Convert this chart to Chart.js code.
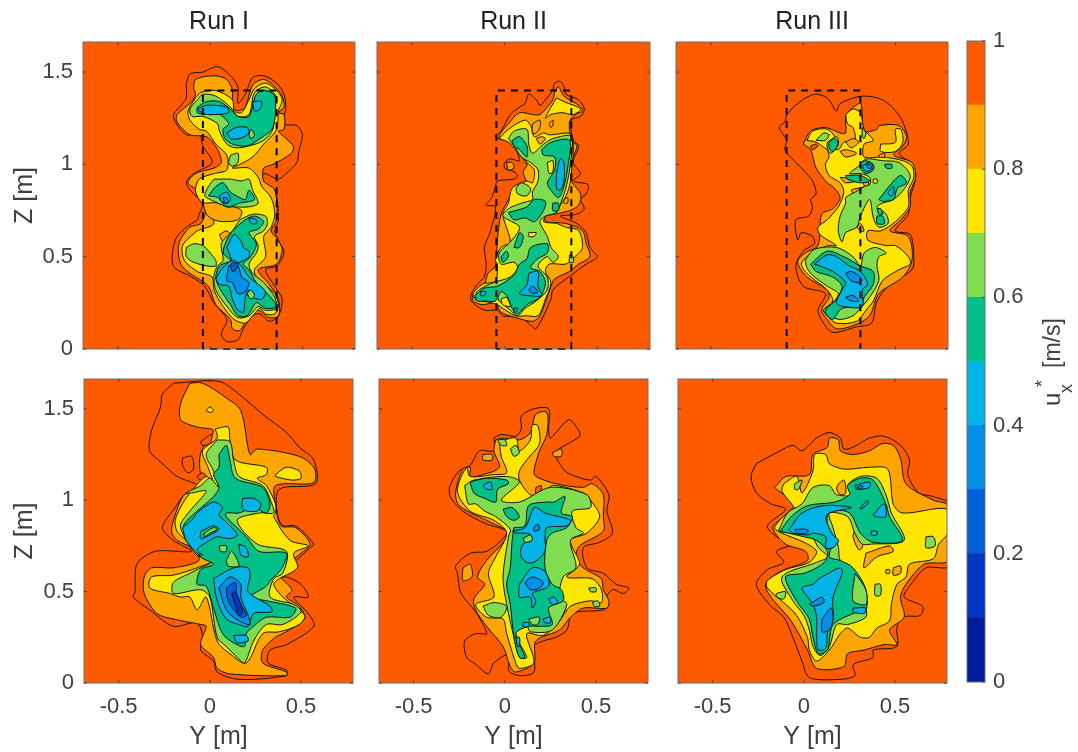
<!DOCTYPE html>
<html>
<head>
<meta charset="utf-8">
<style>
  html, body { margin: 0; padding: 0; background: #fff; overflow: hidden; }
  canvas { position: absolute; filter: blur(0.4px); }
</style>
<script src="https://cdn.jsdelivr.net/npm/chart.js@4"></script>
</head>
<body>
<canvas id="panelUpperI"></canvas>
<canvas id="panelUpperII"></canvas>
<canvas id="panelUpperIII"></canvas>
<canvas id="panelLowerI"></canvas>
<canvas id="panelLowerII"></canvas>
<canvas id="panelLowerIII"></canvas>
<canvas id="colorbar"></canvas>
<script>
const yTicks = [-0.5, 0, 0.5]
const zTicks = [0, 0.5, 1, 1.5]
const barTicks = [0, 0.2, 0.4, 0.6, 0.8, 1]
const barBands = [0.1, 0.1, 0.1, 0.1, 0.1, 0.1, 0.1, 0.1, 0.1, 0.1]
const bandColors = ['#001c9e', '#0036c4', '#005ed8', '#0090e8', '#00b5e5', '#00c088', '#80dd50', '#ffe600', '#ffa500', '#ff5a00']
const runTitles = ['Run I', 'Run II', 'Run III']

// measurement box, drawn dashed: [y, z] corners
const boxUpperI = [-0.04, 0, -0.04, 1.4, 0.36, 1.4, 0.36, 0, -0.04, 0]
const boxUpperII = [-0.045, 0, -0.045, 1.4, 0.36, 1.4, 0.36, 0, -0.045, 0]
const boxUpperIII = [-0.09, 0, -0.09, 1.4, 0.31, 1.4, 0.31, 0]

// contour regions in paint order: [u value of the region, [y, z, y, z, ...]]
const upperI = [
  [0.95, [-.13,1.44,-.11,1.49,-.04,1.5,.04,1.53,.11,1.48,.15,1.42,.15,1.33,.19,1.38,.23,1.47,.29,1.48,.36,1.44,.4,1.38,.41,1.31,.4,1.22,.47,1.21,.5,1.16,.48,1.07,.47,1.01,.41,.95,.37,.92,.29,.95,.29,.89,.35,.86,.37,.7,.35,.64,.37,.59,.4,.52,.36,.45,.3,.43,.35,.34,.39,.27,.37,.18,.32,.15,.27,.19,.23,.18,.18,.11,.15,.05,.09,.04,.06,.08,.09,.16,.02,.25,-.03,.34,-.1,.39,-.2,.45,-.19,.59,-.13,.66,-.07,.7,-.06,.73,-.03,.81,-.08,.83,-.13,.9,-.09,.95,.01,1.01,-.04,1.1,-.06,1.17,-.13,1.16,-.2,1.26,-.15,1.33,-.13,1.36]],
  [0.85, [-.09,1.41,-.08,1.46,.02,1.48,.09,1.46,.12,1.4,.12,1.31,.15,1.29,.19,1.31,.23,1.43,.29,1.46,.35,1.42,.39,1.37,.4,1.31,.37,1.28,.4,1.27,.4,1.19,.37,1.18,.45,1.1,.44,1.06,.34,1,.29,.98,.29,.91,.35,.86,.36,.7,.33,.64,.36,.6,.39,.54,.36,.46,.26,.43,.32,.35,.37,.27,.37,.18,.32,.17,.26,.21,.21,.18,.16,.1,.12,.11,.11,.16,.03,.24,-.01,.34,-.11,.41,-.16,.46,-.17,.57,-.11,.66,-.05,.68,-.02,.77,-.04,.81,-.07,.86,-.12,.9,-.08,.95,.02,.98,.06,1.01,.04,1.08,-.02,1.15,-.11,1.16,-.18,1.23,-.18,1.27,-.1,1.34,-.08,1.38]],
  [0.75, [-.08,1.36,-.05,1.39,.03,1.4,.12,1.35,.13,1.29,.17,1.28,.21,1.35,.24,1.41,.3,1.44,.36,1.4,.39,1.35,.37,1.29,.36,1.19,.29,1.11,.23,1.04,.16,1,.12,.98,.21,.98,.26,.93,.28,.88,.33,.82,.35,.73,.33,.66,.29,.61,.3,.5,.24,.43,.25,.39,.35,.3,.37,.24,.35,.19,.3,.19,.27,.22,.23,.18,.19,.14,.13,.16,.07,.23,.02,.32,.01,.39,-.07,.42,-.14,.48,-.15,.56,-.07,.64,-.04,.65,.02,.68,-.02,.76,-.06,.81,-.08,.86,-.06,.92,.02,.95,.09,.97,.09,1.05,.03,1.11,-.02,1.18,-.06,1.19,-.11,1.24,-.12,1.29]],
  [0.85, [-.04,.79,.05,.79,.17,.75,.15,.7,.07,.69,.02,.7,-.02,.73]],
  [0.85, [.05,.62,.09,.64,.11,.61,.07,.58]],
  [0.65, [-.07,1.35,-.04,1.38,.03,1.37,.11,1.31,.15,1.26,.21,1.27,.24,1.39,.3,1.42,.35,1.38,.36,1.35,.35,1.31,.34,1.19,.29,1.13,.21,1.1,.14,1.09,.09,1.11,.05,1.18,.04,1.22,-.04,1.26,-.1,1.26,-.11,1.3]],
  [0.65, [.11,1.05,.15,1.06,.15,1.01,.12,.99,.1,1.01]],
  [0.65, [.02,.92,.11,.92,.17,.91,.21,.92,.23,.86,.26,.79,.21,.77,.12,.77,.09,.77,0,.81,-.03,.83,-.01,.88]],
  [0.65, [.16,.7,.23,.73,.3,.72,.31,.68,.29,.64,.24,.61,.26,.56,.25,.52,.21,.46,.23,.41,.29,.36,.35,.28,.36,.22,.3,.21,.26,.23,.21,.18,.15,.17,.09,.23,.03,.32,.02,.4,.04,.45,.07,.48,.06,.57,.12,.64]],
  [0.65, [-.13,.55,-.09,.57,-.04,.56,0,.52,.03,.48,.03,.45,-.02,.45,-.09,.47,-.13,.5]],
  [0.55, [-.07,1.31,-.02,1.34,.05,1.34,.12,1.29,.15,1.26,.21,1.26,.25,1.38,.3,1.4,.35,1.37,.34,1.2,.27,1.14,.2,1.1,.12,1.11,.08,1.14,.07,1.19,.1,1.22,.05,1.27,-.02,1.27,-.07,1.28]],
  [0.45, [-.07,1.3,-.02,1.32,.09,1.31,.1,1.28,-.02,1.27,-.06,1.29]],
  [0.45, [.23,1.34,.28,1.34,.27,1.3,.24,1.29]],
  [0.45, [.09,1.17,.14,1.2,.2,1.2,.21,1.17,.16,1.14,.11,1.14]],
  [0.65, [.21,1.16,.22,1.19,.24,1.16,.22,1.14]],
  [0.55, [-.01,.83,.03,.88,.07,.9,.11,.85,.16,.82,.19,.81,.21,.86,.24,.81,.16,.79,.09,.77,.04,.82]],
  [0.45, [.05,.83,.09,.85,.11,.81,.09,.79,.06,.8]],
  [0.35, [.07,.82,.09,.82,.1,.8,.08,.79]],
  [0.55, [.12,.64,.19,.7,.24,.72,.29,.69,.26,.65,.21,.63,.25,.57,.22,.5,.18,.46,.21,.43,.25,.36,.32,.29,.36,.23,.3,.22,.25,.25,.2,.18,.15,.18,.11,.24,.05,.33,.03,.39,.05,.45,.11,.48,.07,.52,.09,.59]],
  [0.45, [.21,.71,.25,.7,.25,.68,.22,.68]],
  [0.45, [.09,.55,.13,.62,.17,.58,.18,.55,.21,.53,.21,.5,.16,.47,.12,.47,.11,.5]],
  [0.45, [.03,.38,.06,.43,.12,.48,.17,.45,.21,.39,.26,.35,.3,.31,.28,.27,.23,.28,.21,.32,.19,.28,.18,.2,.15,.21,.12,.27,.1,.34,.05,.35]],
  [0.35, [.1,.45,.15,.45,.17,.39,.21,.36,.19,.31,.15,.3,.12,.36,.09,.37]],
  [0.25, [.11,.45,.12,.47,.15,.46,.14,.43,.12,.42]],
  [0.65, [.2,.3,.22,.32,.24,.29,.22,.27]]
]

const upperII = [
  [0.95, [.26,1.4,.27,1.44,.3,1.45,.32,1.42,.33,1.38,.4,1.35,.43,1.3,.41,1.26,.36,1.24,.37,1.13,.4,1.1,.37,1.01,.41,.95,.37,.91,.45,.89,.44,.84,.41,.81,.43,.76,.39,.73,.3,.72,.39,.68,.44,.63,.46,.55,.5,.5,.44,.46,.36,.4,.26,.32,.25,.27,.17,.11,.14,.13,.09,.17,-.01,.18,-.04,.21,-.11,.21,-.18,.26,-.18,.3,-.14,.36,-.11,.39,-.1,.46,-.11,.55,-.08,.63,-.05,.77,-.1,.78,-.07,.82,-.05,.88,-.04,.91,.05,.92,.07,.94,.05,.96,0,.98,0,1.01,.03,1.03,.08,1.02,.04,1.11,-.05,1.15,-.02,1.18,.03,1.27,.08,1.31,.11,1.33,.13,1.38,.17,1.35,.19,1.32,.22,1.35]],
  [0.85, [.27,1.39,.29,1.42,.32,1.37,.4,1.32,.42,1.29,.38,1.27,.35,1.23,.36,1.13,.39,1.1,.35,.99,.36,.91,.41,.84,.4,.78,.35,.75,.27,.73,.22,.72,.22,.69,.33,.68,.42,.64,.44,.57,.46,.5,.4,.46,.35,.42,.27,.38,.25,.34,.19,.18,.15,.15,.06,.17,-.02,.2,-.05,.25,-.12,.24,-.17,.26,-.17,.3,-.11,.35,-.09,.41,-.05,.45,-.04,.59,-.02,.73,.02,.81,.04,.85,.12,.88,.1,.96,.12,1,.02,1.13,-.03,1.15,.02,1.22,.08,1.28,.15,1.27,.19,1.27,.23,1.31,.26,1.35]],
  [0.85, [.01,1.01,.04,1.01,.05,.98,.02,.97]],
  [0.75, [.28,1.36,.32,1.34,.41,1.3,.37,1.27,.31,1.28,.25,1.27,.22,1.25,.25,1.31]],
  [0.75, [-.03,1.14,.02,1.19,.11,1.24,.14,1.21,.16,1.15,.21,1.17,.24,1.16,.36,1.16,.36,.95,.34,.85,.3,.78,.23,.73,.21,.69,.28,.68,.33,.66,.4,.64,.42,.55,.38,.5,.33,.46,.24,.46,.22,.42,.25,.36,.22,.27,.18,.18,.12,.18,.06,.18,-.01,.22,-.04,.24,-.11,.26,-.16,.27,-.17,.3,-.12,.35,-.05,.37,-.04,.46,-.05,.48,-.02,.55,.03,.58,-.01,.73,.02,.79,.04,.87,.12,.91,.15,.9,.16,.97,.12,1.01,.06,1.08,.02,1.12]],
  [0.85, [.15,1.22,.19,1.24,.19,1.2,.17,1.17,.15,1.17]],
  [0.85, [.17,1.14,.2,1.15,.22,1.14,.19,1.11]],
  [0.85, [.24,1.22,.26,1.24,.26,1.21,.25,1.2]],
  [0.65, [.02,1.14,.05,1.18,.12,1.19,.13,1.11,.15,1.06,.21,1.11,.26,1.14,.36,1.15,.35,.97,.33,.87,.31,.81,.28,.74,.22,.72,.19,.69,.23,.61,.25,.55,.29,.5,.26,.47,.23,.5,.18,.45,.23,.39,.23,.32,.17,.26,.11,.22,.07,.18,.03,.21,-.03,.26,-.04,.28,-.11,.26,-.16,.28,-.14,.32,-.06,.36,.03,.39,.07,.44,.05,.47,-.02,.46,-.03,.52,.03,.58,.08,.66,-.01,.72,.02,.76,.09,.79,.15,.81,.15,.85,.18,.91,.18,.97,.14,1.01,.09,1.04,.05,1.1]],
  [0.65, [.06,.87,.09,.9,.14,.87,.12,.83,.07,.84]],
  [0.75, [.23,1.01,.26,1.02,.26,.96,.24,.95]],
  [0.75, [.13,.63,.17,.63,.16,.61,.13,.61]],
  [0.65, [.35,.51,.37,.5,.37,.47,.35,.47]],
  [0.85, [.32,.81,.34,.82,.34,.79,.32,.79]],
  [0.55, [.04,1.13,.08,1.15,.12,1.1,.12,1.04,.08,1.08,.05,1.1]],
  [0.55, [.2,1.08,.25,1.12,.35,1.13,.34,.98,.32,.88,.29,.82,.25,.86,.23,.9,.27,.97,.27,1.04,.21,1.05]],
  [0.55, [.02,.74,.06,.75,.12,.77,.16,.81,.22,.8,.21,.75,.16,.69,.11,.71,.05,.7]],
  [0.55, [.05,.55,.08,.63,.1,.61,.08,.55]],
  [0.55, [-.02,.5,.01,.53,.02,.5,-.01,.47]],
  [0.55, [-.16,.29,-.11,.33,-.04,.34,.05,.4,.08,.46,.12,.49,.14,.55,.23,.57,.23,.52,.18,.49,.14,.44,.19,.42,.22,.36,.19,.28,.12,.24,.07,.19,.04,.22,.01,.29,-.02,.31,-.05,.26,-.11,.26,-.15,.26]],
  [0.75, [-.02,.27,.01,.28,.03,.23,-.01,.24]],
  [0.55, [.26,.79,.29,.79,.29,.75,.26,.75]],
  [0.45, [.28,.95,.3,1.03,.32,1.01,.32,.91,.3,.86,.28,.87]],
  [0.45, [.13,.41,.18,.42,.18,.34,.2,.29,.12,.29,.08,.3,.12,.35]],
  [0.35, [.13,.32,.15,.34,.18,.31,.15,.3]],
  [0.45, [-.13,.31,-.1,.31,-.11,.29,-.13,.29]],
  [0.45, [.05,.22,.07,.22,.06,.2,.05,.2]]
]

const upperIII = [
  [0.95, [-.09,1.27,-.03,1.33,.06,1.38,.13,1.36,.18,1.29,.2,1.33,.32,1.37,.43,1.35,.5,1.29,.54,1.23,.57,1.11,.52,1.06,.59,1,.61,.93,.58,.82,.57,.73,.5,.64,.58,.62,.6,.5,.59,.43,.47,.35,.4,.26,.37,.14,.29,.12,.16,.09,.11,.14,.08,.21,.12,.3,0,.34,-.04,.45,0,.53,.06,.57,.05,.61,-.01,.63,-.03,.59,-.04,.7,.03,.72,.05,.77,.04,.81,.07,.84,.05,.91,0,.97,-.05,1.02,-.1,1.08,-.09,1.13,-.13,1.2,-.1,1.23]],
  [0.85, [0,1.11,.04,1.18,.12,1.2,.2,1.17,.23,1.17,.23,1.26,.26,1.3,.31,1.33,.32,1.27,.33,1.18,.4,1.19,.41,1.21,.52,1.21,.56,1.15,.54,1.1,.49,1.05,.59,1.01,.61,.93,.58,.85,.58,.77,.53,.7,.47,.64,.57,.61,.59,.48,.54,.39,.41,.3,.36,.18,.28,.13,.18,.11,.13,.16,.1,.21,.14,.28,.13,.32,.02,.39,-.03,.47,.01,.52,.08,.56,.1,.73,.16,.76,.2,.82,.16,.88,.13,.9,.07,.98,.04,1.08]],
  [0.75, [.23,1.27,.27,1.3,.31,1.28,.33,1.19,.38,1.13,.33,1.11,.33,1.04,.43,1.04,.54,1.02,.59,.99,.6,.93,.57,.86,.57,.77,.5,.69,.42,.64,.35,.64,.35,.59,.45,.56,.5,.56,.57,.5,.58,.46,.52,.43,.43,.37,.38,.26,.34,.21,.29,.15,.18,.14,.13,.18,.11,.21,.16,.26,.13,.32,.03,.4,-.01,.46,.03,.51,.08,.54,.14,.56,.18,.56,.09,.62,.08,.66,.13,.7,.19,.77,.22,.85,.2,.9,.14,.94,.12,1,.14,1.04,.13,1.1,.19,1.08,.22,1.12,.28,1.13,.27,1.2,.24,1.22]],
  [0.75, [.02,1.13,.05,1.18,.13,1.19,.18,1.13,.14,1.08,.07,1.12]],
  [0.75, [.42,1.11,.5,1.12,.5,1.19,.53,1.19,.54,1.12,.5,1.07,.42,1.07]],
  [0.85, [.23,1.12,.27,1.14,.3,1.12,.26,1.09]],
  [0.85, [.2,1.07,.23,1.08,.29,1.06,.23,1.04]],
  [0.85, [.2,.93,.29,.92,.35,.91,.35,.86,.31,.82,.26,.86,.33,.88,.31,.91,.23,.9]],
  [0.85, [.29,.66,.31,.68,.33,.64,.31,.64]],
  [0.85, [.41,1.05,.44,1.06,.44,1.04,.41,1.04]],
  [0.95, [.04,1.1,.07,1.11,.08,1.1,.05,1.08]],
  [0.65, [.31,1,.34,1.03,.43,1.02,.52,1.01,.58,.94,.55,.87,.49,.81,.43,.79,.4,.77,.45,.73,.46,.68,.41,.66,.38,.71,.36,.81,.31,.72,.29,.66,.23,.63,.21,.58,.19,.64,.2,.72,.23,.79,.23,.82,.3,.86,.33,.88,.36,.89,.36,.93,.31,.95,.25,.95,.3,.99]],
  [0.65, [.01,.48,.06,.54,.18,.55,.27,.5,.31,.45,.33,.52,.39,.55,.45,.52,.41,.5,.4,.45,.41,.37,.36,.28,.31,.22,.27,.18,.2,.16,.14,.18,.11,.21,.16,.25,.19,.3,.13,.34,.05,.4,.02,.44]],
  [0.65, [.07,1.13,.11,1.17,.14,1.16,.12,1.13,.08,1.13]],
  [0.65, [.13,1.12,.18,1.15,.19,1.11,.15,1.06,.13,1.09]],
  [0.65, [.32,1.2,.34,1.17,.33,1.14,.32,1.15]],
  [0.75, [.38,.92,.4,.92,.4,.9,.38,.9]],
  [0.55, [.41,.81,.49,.91,.53,.94,.56,.9,.51,.87,.49,.81,.43,.8]],
  [0.55, [.31,1.01,.34,1.02,.38,1,.38,.97,.34,.95,.31,.98]],
  [0.55, [.44,1,.48,1,.48,.98,.45,.98]],
  [0.55, [.4,.72,.43,.72,.44,.68,.4,.68]],
  [0.55, [.4,.76,.42,.76,.43,.73,.41,.73]],
  [0.55, [.23,.94,.31,.94,.36,.91,.31,.9,.24,.92]],
  [0.55, [.04,.46,.13,.53,.22,.5,.31,.45,.38,.42,.38,.35,.33,.28,.31,.23,.21,.22,.16,.16,.13,.18,.12,.21,.18,.27,.21,.34,.16,.39,.07,.42]],
  [0.55, [.14,1.12,.17,1.14,.19,1.11,.16,1.07,.14,1.09]],
  [0.45, [.06,.46,.13,.51,.18,.5,.25,.45,.31,.42,.35,.35,.32,.32,.32,.23,.22,.23,.18,.25,.21,.32,.23,.36,.16,.42,.09,.45]],
  [0.35, [.23,.41,.26,.42,.31,.39,.31,.36,.26,.37]],
  [0.35, [.23,.28,.27,.29,.3,.26,.26,.26]],
  [0.45, [.32,.99,.36,1.01,.38,.98,.34,.96]],
  [0.35, [.34,1,.36,1,.37,.98,.35,.98]],
  [0.45, [.46,.85,.49,.88,.49,.84,.47,.83]]
]

const lowerI = [
  [0.95, [-.2,1.64,-.26,1.58,-.27,1.51,-.32,1.38,-.33,1.27,-.27,1.21,-.18,1.13,-.07,1.08,-.14,1.03,-.19,.96,-.26,.85,-.2,.78,-.1,.72,-.3,.72,-.4,.65,-.41,.5,-.42,.47,-.33,.4,-.2,.31,-.07,.33,-.04,.25,-.05,.18,.02,.12,.04,.06,.16,.02,.42,.04,.42,.07,.32,.11,.33,.18,.42,.21,.57,.31,.54,.38,.46,.47,.54,.47,.5,.54,.42,.58,.38,.58,.55,.74,.57,.76,.47,.86,.4,.86,.37,.93,.38,1.06,.58,1.09,.57,1.22,.49,1.29,.42,1.37,.29,1.47,.16,1.58,.05,1.65]],
  [0.85, [-.11,1.64,-.04,1.64,.09,1.56,.17,1.49,.22,1.25,.26,1.28,.49,1.24,.57,1.18,.58,1.11,.55,1.09,.36,1.08,.36,.98,.39,.86,.47,.85,.55,.76,.5,.71,.38,.6,.45,.51,.42,.47,.49,.42,.52,.35,.4,.27,.36,.25,.29,.18,.29,.11,.42,.06,.42,.04,.11,.05,.04,.08,.02,.14,-.05,.21,-.02,.31,-.05,.32,-.2,.35,-.29,.38,-.36,.49,-.36,.58,-.32,.63,-.2,.63,-.06,.67,-.1,.74,-.18,.78,-.21,.83,-.19,.92,-.14,1.03,-.07,1.05,-.01,1.09,-.05,1.14,-.05,1.26,.02,1.38,-.07,1.4,-.16,1.44,-.16,1.53]],
  [0.95, [-.05,1.32,.01,1.36,0,1.31,-.04,1.3]],
  [0.95, [-.15,1.23,-.1,1.24,-.09,1.17,-.12,1.15,-.15,1.19]],
  [0.95, [-.07,1.13,-.04,1.15,-.02,1.13,-.05,1.11]],
  [0.75, [-.02,1.49,0,1.51,.02,1.49,0,1.48]],
  [0.75, [.36,1.14,.42,1.18,.49,1.16,.5,1.12,.45,1.11,.36,1.13]],
  [0.75, [.03,1.39,.1,1.4,.11,1.33,.14,1.22,.31,1.18,.31,1.14,.26,1.12,.31,1.08,.36,.98,.36,.93,.35,.91,.44,.78,.54,.75,.46,.71,.48,.63,.38,.57,.35,.54,.4,.47,.52,.37,.49,.32,.38,.28,.29,.27,.2,.11,.11,.16,.04,.23,-.02,.47,-.07,.4,-.11,.47,-.16,.47,-.22,.49,-.33,.52,-.32,.58,-.2,.59,-.07,.63,.02,.67,-.05,.69,-.13,.78,-.18,.83,-.19,.89,-.15,.98,-.1,1.05,-.02,1.13,.02,1.09,-.01,1.18,-.04,1.27,.04,1.34]],
  [0.65, [.04,1.33,.11,1.32,.13,1.22,.16,1.13,.29,1.08,.34,.98,.35,.93,.27,.93,.15,.89,.26,.76,.42,.72,.4,.6,.35,.57,.33,.47,.46,.43,.5,.39,.4,.32,.31,.32,.24,.23,.19,.11,.15,.14,.09,.2,.04,.25,0,.47,-.05,.51,-.2,.49,-.2,.55,-.11,.6,-.05,.63,.02,.67,-.07,.7,-.15,.82,-.16,.87,-.11,.94,-.02,1.05,-.1,1.04,-.13,1.04,-.05,1.08,0,1.12,.05,1.07,.02,1.16,-.02,1.25]],
  [0.55, [.05,1.25,.09,1.3,.11,1.22,.14,1.12,.29,1.07,.33,.98,.31,.93,.24,.96,.16,.93,.09,.93,.09,.91,.2,.8,.27,.72,.42,.71,.39,.62,.34,.57,.31,.53,.22,.47,.31,.45,.47,.41,.44,.36,.31,.36,.24,.31,.2,.27,.19,.2,.13,.22,.07,.27,.02,.41,-.02,.53,-.07,.54,-.05,.62,.02,.65,-.05,.69,-.14,.82,-.14,.87,-.07,.94,.02,1.02,.05,1.07,.02,1.14,.05,1.18]],
  [0.45, [-.15,.85,-.1,.89,-.07,.93,.02,.99,.07,.96,.05,.92,.09,.88,.15,.81,.11,.79,.04,.8,0,.78,-.07,.73,-.04,.7,-.07,.71,-.13,.78]],
  [0.55, [-.05,.83,.02,.86,.05,.84,0,.81,-.05,.79]],
  [0.65, [-.03,.82,.02,.85,.04,.84,0,.82,-.03,.8]],
  [0.65, [.09,.67,.12,.72,.16,.64,.1,.64]],
  [0.65, [.05,.75,.09,.75,.09,.72,.06,.72]],
  [0.45, [.18,1.01,.24,1.01,.28,.98,.26,.94,.18,.95]],
  [0.45, [.02,.57,.13,.63,.21,.63,.22,.58,.21,.5,.33,.42,.34,.39,.24,.38,.21,.31,.16,.32,.09,.35,.04,.45]],
  [0.35, [.05,.52,.11,.58,.17,.54,.17,.47,.21,.37,.22,.32,.16,.34,.09,.4]],
  [0.25, [.09,.52,.14,.55,.15,.47,.2,.37,.17,.36,.1,.45]],
  [0.15, [.12,.49,.14,.5,.18,.39,.16,.37]],
  [0.45, [.16,.76,.2,.74,.21,.69,.17,.7]],
  [0.45, [.13,.26,.2,.26,.21,.23,.15,.22]]
]

const lowerII = [
  [0.95, [-.06,1.34,-.02,1.36,.06,1.35,.09,1.39,.09,1.46,.16,1.5,.24,1.5,.24,1.39,.25,1.34,.35,1.44,.4,1.39,.41,1.35,.28,1.26,.33,1.16,.39,1.13,.47,1.11,.5,1.13,.57,1.03,.56,.94,.59,.82,.52,.77,.43,.74,.45,.63,.54,.6,.61,.54,.68,.52,.65,.49,.59,.51,.54,.44,.57,.43,.54,.4,.37,.38,.34,.29,.28,.25,.21,.23,.16,.2,.16,.06,.08,.04,.02,.07,.03,.16,-.06,.11,-.09,.05,-.17,.11,-.21,.14,-.22,.23,-.16,.27,-.1,.27,-.12,.32,-.16,.39,-.24,.49,-.26,.6,-.27,.64,-.19,.71,-.1,.72,-.02,.78,.01,.83,-.1,.87,-.23,.94,-.3,1.02,-.3,1.08,-.25,1.16,-.19,1.19,-.14,1.27,-.06,1.27]],
  [0.85, [-.05,1.33,-.01,1.34,.08,1.33,.14,1.37,.17,1.47,.23,1.48,.23,1.36,.19,1.27,.16,1.16,.17,1.13,.28,1.09,.43,1.07,.48,1.09,.54,1.03,.54,.91,.54,.83,.41,.75,.39,.69,.43,.63,.53,.57,.54,.51,.57,.45,.56,.41,.43,.41,.36,.36,.3,.29,.17,.23,.16,.11,.06,.06,.03,.09,-.01,.2,-.1,.31,-.16,.4,-.17,.46,-.11,.54,-.15,.58,-.1,.67,0,.78,.01,.83,-.08,.88,-.25,.97,-.27,1.04,-.23,1.17,-.19,1.18,-.19,1.13,-.12,1.14,-.03,1.18,-.06,1.27]],
  [0.85, [-.23,.63,-.19,.65,-.18,.58,-.23,.56]],
  [0.85, [.26,1.26,.31,1.28,.31,1.24,.27,1.24]],
  [0.85, [-.12,1.25,-.07,1.25,-.07,1.22,-.12,1.22]],
  [0.95, [.17,1.07,.2,1.08,.19,1.03,.17,1.03]],
  [0.75, [-.03,1.32,.06,1.34,.08,1.27,.14,1.33,.15,1.41,.18,1.41,.19,1.31,.12,1.22,.08,1.16,.08,1.11,.14,1.03,.21,1.03,.26,1.08,.43,1.04,.47,1,.52,.91,.45,.82,.36,.78,.41,.65,.34,.58,.48,.57,.53,.51,.53,.44,.47,.45,.36,.42,.3,.34,.21,.26,.12,.27,.16,.11,.08,.08,.06,.11,.01,.27,-.01,.35,-.1,.36,-.16,.43,-.06,.47,-.09,.6,-.05,.69,.01,.82,-.06,.89,-.19,.94,-.26,1.05,-.21,1.18,-.19,1.13,-.06,1.14,.01,1.15,-.02,1.24]],
  [0.65, [-.22,1.08,-.17,1.11,.01,1.13,.08,1.1,-.02,1,.08,.99,.25,1.07,.45,1.03,.47,.96,.37,.94,.39,.85,.43,.82,.36,.78,.39,.63,.32,.58,.3,.47,.34,.43,.26,.29,.14,.28,.12,.31,.06,.27,.12,.14,.08,.14,.05,.25,.01,.43,-.01,.58,.02,.8,.03,.84,-.05,.91,-.11,.94,-.16,.98,-.2,.98]],
  [0.65, [-.12,.42,-.06,.44,.01,.42,-.02,.36,-.09,.37]],
  [0.65, [-.04,1.33,0,1.33,.01,1.3,-.02,1.3]],
  [0.65, [.03,1.28,.06,1.3,.08,1.26,.05,1.24]],
  [0.65, [.46,.52,.5,.52,.5,.5,.47,.5]],
  [0.65, [.48,.44,.51,.45,.52,.42,.49,.42]],
  [0.55, [-.19,1.1,-.1,1.12,.01,1.11,.02,1.09,-.04,1.06,-.05,.99,-.11,1.01,-.17,1.04]],
  [0.55, [-.01,.95,.04,.96,.08,.91,.05,.89,.01,.91]],
  [0.55, [.05,.85,.11,.86,.13,.97,.23,.99,.27,.99,.33,1.02,.31,.93,.37,.91,.34,.85,.26,.82,.23,.78,.22,.63,.26,.54,.31,.51,.32,.45,.24,.41,.26,.32,.19,.31,.13,.31,.06,.27,.11,.14,.08,.14,.05,.25,.03,.43,.01,.54,.03,.63,.04,.78]],
  [0.65, [.13,.35,.19,.36,.18,.32,.15,.32]],
  [0.45, [.04,.83,.11,.85,.16,.96,.19,.95,.22,.93,.36,.89,.34,.86,.23,.85,.22,.8,.22,.72,.16,.66,.12,.66,.09,.69,.09,.74,.14,.81,.11,.82,.06,.82]],
  [0.65, [.1,.79,.14,.81,.15,.78,.11,.77]],
  [0.45, [.08,.54,.15,.63,.22,.61,.24,.53,.15,.49,.17,.45,.15,.41,.14,.47,.08,.47]],
  [0.35, [.11,.55,.15,.58,.21,.55,.19,.52,.14,.51]],
  [0.45, [-.12,1.08,-.08,1.1,-.07,1.06,-.1,1.06]],
  [0.45, [.06,.25,.08,.25,.08,.2,.07,.2]],
  [0.45, [.1,.33,.13,.33,.13,.31,.1,.31]],
  [0.45, [.21,.35,.25,.36,.25,.33,.22,.33]],
  [0.45, [.24,.46,.27,.47,.29,.44,.26,.43]],
  [0.35, [.16,.85,.18,.87,.19,.84,.16,.83]]
]

const lowerIII = [
  [0.95, [-.26,1.2,-.13,1.27,-.06,1.3,-.01,1.27,.07,1.34,.14,1.37,.2,1.34,.22,1.28,.27,1.29,.36,1.34,.44,1.35,.53,1.3,.58,1.22,.57,1.14,.63,1.04,.71,1.02,.79,.98,.79,.64,.67,.63,.58,.53,.55,.47,.65,.42,.64,.37,.54,.36,.51,.3,.51,.2,.38,.18,.38,.14,.27,.1,.28,.04,.2,.02,.03,.03,-.01,.12,-.06,.25,-.11,.36,-.19,.43,-.26,.54,-.2,.62,-.11,.66,-.15,.72,-.06,.76,-.15,.8,-.2,.86,-.1,.95,-.18,.98,-.26,1.04,-.29,1.13]],
  [0.85, [-.15,1.08,-.1,1.13,.03,1.14,.05,1.25,.13,1.29,.14,1.34,.19,1.33,.2,1.27,.27,1.25,.36,1.27,.43,1.31,.49,1.3,.53,1.23,.56,1.09,.71,1,.79,.97,.79,.67,.66,.65,.56,.54,.53,.47,.55,.36,.47,.29,.51,.21,.44,.21,.33,.18,.24,.16,.22,.09,.07,.08,.02,.18,-.07,.34,-.18,.47,-.21,.54,-.13,.61,.02,.67,.01,.72,-.1,.76,-.17,.85,-.11,.91,-.05,.98,-.11,1.03,-.16,1.07]],
  [0.75, [-.11,1.09,-.04,1.13,-.01,1.04,.05,1.16,.06,1.25,.12,1.25,.14,1.2,.22,1.17,.36,1.18,.46,1.17,.49,.98,.54,.93,.79,.95,.79,.82,.74,.76,.71,.68,.58,.65,.56,.58,.51,.54,.48,.43,.47,.34,.4,.3,.36,.25,.31,.25,.24,.3,.2,.27,.14,.18,.07,.12,.03,.18,.02,.25,-.04,.37,-.11,.44,-.2,.52,-.2,.56,-.1,.62,.03,.66,.07,.72,0,.77,-.12,.82,-.16,.85,-.09,.93,-.05,.95,-.12,1.05]],
  [0.85, [.19,1.09,.22,1.11,.23,1.04,.2,1.03,.18,1.06]],
  [0.85, [.34,.71,.47,.75,.49,.72,.4,.69,.33,.63]],
  [0.85, [.28,.84,.32,.84,.32,.74,.3,.73,.27,.8]],
  [0.85, [.45,.62,.47,.62,.47,.6,.45,.6]],
  [0.85, [.49,.63,.53,.64,.53,.6,.49,.59]],
  [0.65, [.67,.8,.71,.8,.72,.75,.67,.74]],
  [0.65, [.39,.54,.42,.54,.42,.48,.39,.48]],
  [0.65, [-.15,.49,-.1,.5,-.11,.46,-.15,.47]],
  [0.65, [-.05,1.09,-.01,1.11,-.03,1.06,-.05,1.06]],
  [0.65, [-.14,.83,-.09,.93,-.01,.98,.05,1.07,.14,1.08,.18,1.03,.29,1.03,.24,1.08,.31,1.13,.4,1.12,.45,1.03,.48,.93,.55,.78,.37,.76,.32,.76,.28,.82,.24,.91,.14,.93,.16,.85,.19,.74,.2,.67,.29,.6,.34,.51,.34,.42,.34,.36,.24,.32,.18,.32,.14,.2,.09,.15,.05,.2,.03,.29,0,.37,-.06,.45,-.12,.58,.07,.66,.13,.69,.08,.74,.05,.79,0,.81]],
  [0.55, [-.13,.83,-.07,.91,.02,.97,.17,.99,.25,1.03,.24,1.08,.31,1.12,.38,1.11,.45,.98,.47,.91,.54,.78,.38,.77,.31,.82,.25,.93,.14,.94,.13,.85,.16,.78,.14,.69,.2,.67,.27,.63,.34,.51,.34,.4,.27,.38,.16,.32,.14,.23,.13,.18,.08,.16,.05,.25,.03,.35,-.04,.45,-.1,.58,0,.6,.07,.63,.12,.67,.13,.72,.07,.78,0,.8]],
  [0.65, [.28,.6,.34,.51,.34,.43,.27,.45]],
  [0.45, [-.08,.84,-.01,.93,.11,.97,.26,.96,.14,.93,.12,.9,.16,.81,.19,.78,.16,.74,.12,.74,.12,.8,.05,.82,.02,.81,-.06,.82]],
  [0.45, [.08,.57,.2,.63,.21,.6,.16,.47,.16,.34,.13,.28,.12,.19,.08,.18,.07,.25,.07,.36,.05,.43,-.01,.52,.05,.54]],
  [0.35, [-.05,.84,.02,.84,.02,.82,-.04,.82]],
  [0.35, [.1,.35,.15,.41,.16,.35,.14,.29,.1,.28]],
  [0.35, [.03,.43,.1,.47,.11,.44,.05,.42]],
  [0.45, [.27,.41,.34,.41,.33,.38,.27,.39]],
  [0.45, [.28,1.08,.36,1.1,.36,1.07,.29,1.06]],
  [0.35, [.29,1.07,.32,1.08,.32,1.06]],
  [0.45, [.31,.96,.35,1,.35,.98,.31,.95]],
  [0.45, [.38,.92,.44,.98,.45,.91,.4,.91]],
  [0.45, [.37,.83,.4,.83,.4,.81,.37,.81]]
]

const yMin = -0.69
const yMax = 0.785
const zMax = 1.663
const tickFont = { family: '"Liberation Sans", Arial, sans-serif', size: 22 }
const labelFont = { family: '"Liberation Sans", Arial, sans-serif', size: 25 }

function toPoints(flat) {
  const pts = []
  for (let i = 0; i < flat.length; i += 2) pts.push({ x: flat[i], y: flat[i + 1] })
  return pts
}

function bandColor(value) {
  return bandColors[Math.floor(value * 10)]
}

// plot background, box outline and the short inward ticks
const framePlugin = {
  id: 'frame',
  beforeDatasetsDraw(chart) {
    if (chart.config.type === 'bar') return
    const a = chart.chartArea
    chart.ctx.fillStyle = bandColors[9]
    chart.ctx.fillRect(a.left, a.top, a.width, a.height)
  },
  afterDatasetsDraw(chart) {
    const { ctx, chartArea: a, scales } = chart
    ctx.save()
    ctx.strokeStyle = '#6e6e6e'
    ctx.lineWidth = 1
    ctx.strokeRect(a.left, a.top, a.width, a.height)
    ctx.strokeStyle = '#444'
    ctx.beginPath()
    if (scales.x.type === 'linear') {
      scales.x.ticks.forEach(t => {
        const px = scales.x.getPixelForValue(t.value)
        ctx.moveTo(px, a.bottom); ctx.lineTo(px, a.bottom - 3)
        ctx.moveTo(px, a.top); ctx.lineTo(px, a.top + 3)
      })
    }
    scales.y.ticks.forEach(t => {
      const py = scales.y.getPixelForValue(t.value)
      if (scales.x.type === 'linear') { ctx.moveTo(a.left, py); ctx.lineTo(a.left + 3, py) }
      ctx.moveTo(a.right, py); ctx.lineTo(a.right - 3, py)
    })
    ctx.stroke()
    ctx.restore()
  }
}

// the colorbar label has a subscript and a superscript and reads upwards
const barLabelPlugin = {
  id: 'barLabel',
  afterDraw(chart) {
    const ctx = chart.ctx
    const x0 = 100
    ctx.save()
    ctx.fillStyle = '#404040'
    ctx.textBaseline = 'alphabetic'
    const put = (text, px, py, size) => {
      ctx.save()
      ctx.translate(px, py)
      ctx.rotate(-Math.PI / 2)
      ctx.font = size + 'px "Liberation Sans", Arial, sans-serif'
      ctx.fillText(text, 0, 0)
      ctx.restore()
    }
    put('u', x0, 380, 24)
    put('x', x0 + 12, 367, 18)
    put('*', x0 - 12, 361, 18)
    put('[m/s]', x0, 342, 23)
    ctx.restore()
  }
}

function drawPanel(id, rect, regions, box, opts) {
  const marginLeft = opts.labelZ ? rect.left : 5
  const marginTop = opts.title ? rect.top : 5
  const marginBottom = opts.labelY ? 752 - rect.bottom : 20
  const canvas = document.getElementById(id)
  canvas.width = rect.right - rect.left + marginLeft + 5
  canvas.height = rect.bottom - rect.top + marginTop + marginBottom
  canvas.style.left = (rect.left - marginLeft) + 'px'
  canvas.style.top = (rect.top - marginTop) + 'px'

  const datasets = regions.map(([value, flat]) => {
    const pts = toPoints(flat)
    pts.push(pts[0])
    return {
      data: pts,
      showLine: true,
      fill: 'shape',
      tension: 0.3,
      backgroundColor: bandColor(value),
      borderColor: '#141414',
      borderWidth: 1,
      pointRadius: 0
    }
  })
  if (box) {
    datasets.push({
      data: toPoints(box),
      showLine: true,
      fill: false,
      borderColor: '#000',
      borderWidth: 2,
      borderDash: [7, 6],
      pointRadius: 0,
      clip: false
    })
  }
  datasets.reverse() // chart.js paints the last dataset first

  new Chart(canvas, {
    type: 'scatter',
    data: { datasets },
    plugins: [framePlugin],
    options: {
      responsive: false,
      animation: false,
      events: [],
      layout: { padding: { right: 5, top: opts.title ? 0 : 5, bottom: 0 } },
      plugins: {
        legend: { display: false },
        tooltip: { enabled: false },
        title: {
          display: !!opts.title,
          text: opts.title,
          fullSize: false,
          color: '#222',
          font: { ...labelFont, weight: 'normal' },
          padding: { top: 7, bottom: 5 }
        }
      },
      scales: {
        x: {
          type: 'linear',
          min: yMin,
          max: yMax,
          afterBuildTicks: s => { s.ticks = yTicks.map(value => ({ value })) },
          afterFit: s => { s.height = marginBottom; s.paddingLeft = 0; s.paddingRight = 0 },
          grid: { display: false, drawTicks: false },
          border: { display: false },
          ticks: {
            display: !!opts.labelY,
            color: '#404040',
            font: tickFont,
            padding: 11,
            maxRotation: 0,
            callback: v => String(v)
          },
          title: {
            display: !!opts.labelY,
            text: 'Y [m]',
            color: '#404040',
            font: labelFont,
            padding: { top: 0, bottom: 0 }
          }
        },
        y: {
          type: 'linear',
          min: 0,
          max: zMax,
          afterBuildTicks: s => { s.ticks = zTicks.map(value => ({ value })) },
          afterFit: s => { s.width = marginLeft; s.paddingTop = 0; s.paddingBottom = 0 },
          grid: { display: false, drawTicks: false },
          border: { display: false },
          ticks: {
            display: !!opts.labelZ,
            color: '#404040',
            font: tickFont,
            padding: 10,
            callback: v => String(v)
          },
          title: {
            display: !!opts.labelZ,
            text: 'Z [m]',
            color: '#404040',
            font: labelFont,
            padding: { top: 10, bottom: 0 }
          }
        }
      }
    }
  })
}

drawPanel('panelUpperI', { left: 83, right: 355, top: 42, bottom: 349 }, upperI, boxUpperI, { title: runTitles[0], labelZ: true })
drawPanel('panelUpperII', { left: 377, right: 650, top: 42, bottom: 349 }, upperII, boxUpperII, { title: runTitles[1] })
drawPanel('panelUpperIII', { left: 676, right: 948, top: 42, bottom: 349 }, upperIII, boxUpperIII, { title: runTitles[2] })
drawPanel('panelLowerI', { left: 84, right: 353, top: 379, bottom: 683 }, lowerI, null, { labelZ: true, labelY: true })
drawPanel('panelLowerII', { left: 379, right: 648, top: 379, bottom: 683 }, lowerII, null, { labelY: true })
drawPanel('panelLowerIII', { left: 678, right: 947, top: 379, bottom: 683 }, lowerIII, null, { labelY: true })

const barCanvas = document.getElementById('colorbar')
barCanvas.width = 118
barCanvas.height = 672
barCanvas.style.left = '960px'
barCanvas.style.top = '26px'
new Chart(barCanvas, {
  type: 'bar',
  data: {
    labels: [''],
    datasets: barBands.map((v, i) => ({
      data: [v],
      backgroundColor: bandColors[i],
      borderWidth: 0,
      categoryPercentage: 1,
      barPercentage: 1
    }))
  },
  plugins: [framePlugin, barLabelPlugin],
  options: {
    responsive: false,
    animation: false,
    events: [],
    layout: { padding: { left: 7, top: 15, bottom: 16 } },
    plugins: { legend: { display: false }, tooltip: { enabled: false } },
    scales: {
      x: { stacked: true, display: false },
      y: {
        stacked: true,
        position: 'right',
        min: 0,
        max: 1,
        afterBuildTicks: s => { s.ticks = barTicks.map(value => ({ value })) },
        afterFit: s => { s.width = 93; s.paddingTop = 0; s.paddingBottom = 0 },
        grid: { display: false, drawTicks: false },
        border: { display: false },
        ticks: { color: '#404040', font: tickFont, padding: 8, callback: v => String(v) }
      }
    }
  }
})
</script>
</body>
</html>
